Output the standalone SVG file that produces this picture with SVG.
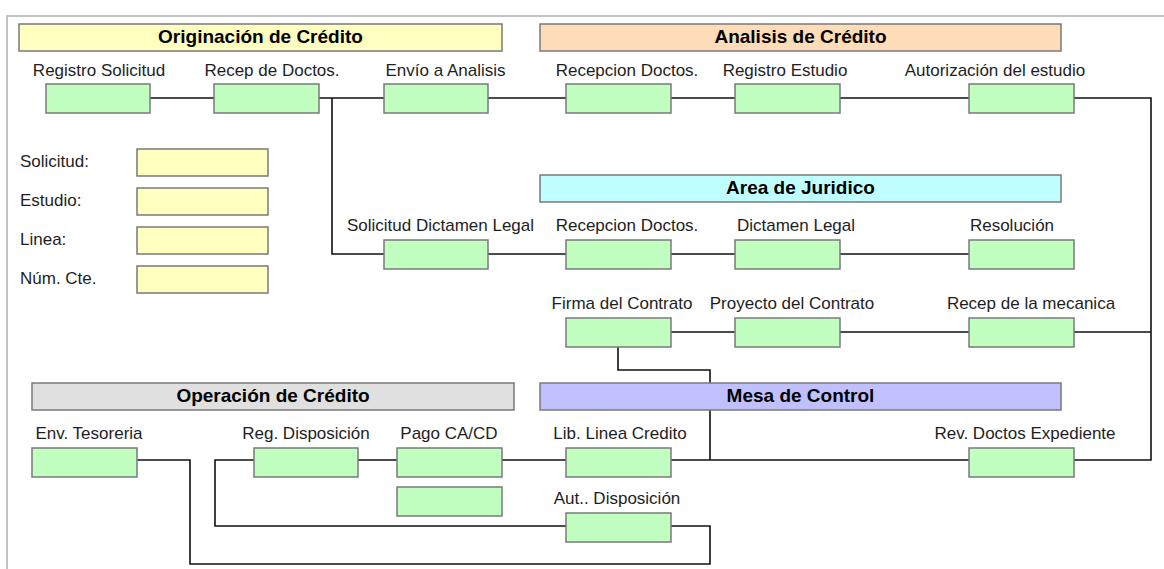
<svg xmlns="http://www.w3.org/2000/svg" width="1164" height="569" viewBox="0 0 1164 569">
<style>
.frame{fill:none;stroke:#c4c4c4;stroke-width:2}
.conn{fill:none;stroke:#111;stroke-width:1.6}
.box{fill:#c0ffc0;stroke:#7a7a7a;stroke-width:1.5}
.field{fill:#ffffc0;stroke:#7a7a7a;stroke-width:1.5}
.bar{stroke:#7a7a7a;stroke-width:1.5}
.lbl{font-family:"Liberation Sans",Arial,sans-serif;font-size:17px;fill:#1e1e1e;text-anchor:middle}
.flbl{font-family:"Liberation Sans",Arial,sans-serif;font-size:17px;fill:#1e1e1e}
.hdr{font-family:"Liberation Sans",Arial,sans-serif;font-size:19px;font-weight:bold;fill:#000;text-anchor:middle}
</style>
<rect x="0" y="0" width="1164" height="569" fill="#ffffff"/>
<path class="frame" d="M7,569 V16 H1164"/>

<g id="connectors">
<path class="conn" d="M150,98 H214 M319,98 H384 M488,98 H566 M671,98 H735 M840,98 H969 M1074,98 H1151 V460 H1074"/>
<path class="conn" d="M332,98 V254 H384"/>
<path class="conn" d="M488,254 H566 M671,254 H735 M840,254 H969"/>
<path class="conn" d="M671,332 H735 M840,332 H969 M1074,332 H1151"/>
<path class="conn" d="M618,347 V370 H710 V460"/>
<path class="conn" d="M671,460 H969 M502,460 H566 M358,460 H397"/>
<path class="conn" d="M137,460 H190 V564 H710 V526 H671"/>
<path class="conn" d="M254,460 H215 V526 H566"/>
</g>

<g id="hdr-originacion"><rect class="bar" x="19" y="24" width="483" height="27" fill="#ffffc0"/><text class="hdr" x="260.5" y="43">Originación de Crédito</text></g>
<g id="hdr-analisis"><rect class="bar" x="540" y="24" width="521" height="27" fill="#ffdcb8"/><text class="hdr" x="800.5" y="43">Analisis de Crédito</text></g>
<g id="hdr-juridico"><rect class="bar" x="540" y="175" width="521" height="27" fill="#c0ffff"/><text class="hdr" x="800.5" y="194">Area de Juridico</text></g>
<g id="hdr-operacion"><rect class="bar" x="32" y="383" width="482" height="27" fill="#e0e0e0"/><text class="hdr" x="273" y="402">Operación de Crédito</text></g>
<g id="hdr-mesa"><rect class="bar" x="540" y="383" width="521" height="27" fill="#c0c0ff"/><text class="hdr" x="800.5" y="402">Mesa de Control</text></g>

<g id="field-solicitud"><text class="flbl" x="20" y="167">Solicitud:</text><rect class="field" x="137" y="149" width="131" height="27"/></g>
<g id="field-estudio"><text class="flbl" x="20" y="206">Estudio:</text><rect class="field" x="137" y="188" width="131" height="27"/></g>
<g id="field-linea"><text class="flbl" x="20" y="245">Linea:</text><rect class="field" x="137" y="227" width="131" height="27"/></g>
<g id="field-numcte"><text class="flbl" x="20" y="284">Núm. Cte.</text><rect class="field" x="137" y="266" width="131" height="27"/></g>

<g id="registro-solicitud"><text class="lbl" x="99" y="76">Registro Solicitud</text><rect class="box" x="46" y="84" width="104" height="29"/></g>
<g id="recep-doctos"><text class="lbl" x="272" y="76">Recep de Doctos.</text><rect class="box" x="214" y="84" width="105" height="29"/></g>
<g id="envio-analisis"><text class="lbl" x="445.5" y="76">Envío a Analisis</text><rect class="box" x="384" y="84" width="104" height="29"/></g>
<g id="recepcion-doctos-a"><text class="lbl" x="627" y="76">Recepcion Doctos.</text><rect class="box" x="566" y="84" width="105" height="29"/></g>
<g id="registro-estudio"><text class="lbl" x="785" y="76">Registro Estudio</text><rect class="box" x="735" y="84" width="105" height="29"/></g>
<g id="autorizacion-estudio"><text class="lbl" x="995" y="76">Autorización del estudio</text><rect class="box" x="969" y="84" width="105" height="29"/></g>

<g id="solicitud-dictamen"><text class="lbl" x="440.5" y="231">Solicitud Dictamen Legal</text><rect class="box" x="384" y="240" width="104" height="29"/></g>
<g id="recepcion-doctos-j"><text class="lbl" x="627" y="231">Recepcion Doctos.</text><rect class="box" x="566" y="240" width="105" height="29"/></g>
<g id="dictamen-legal"><text class="lbl" x="796" y="231">Dictamen Legal</text><rect class="box" x="735" y="240" width="105" height="29"/></g>
<g id="resolucion"><text class="lbl" x="1012" y="231">Resolución</text><rect class="box" x="969" y="240" width="105" height="29"/></g>

<g id="firma-contrato"><text class="lbl" x="622" y="309">Firma del Contrato</text><rect class="box" x="566" y="318" width="105" height="29"/></g>
<g id="proyecto-contrato"><text class="lbl" x="792" y="309">Proyecto del Contrato</text><rect class="box" x="735" y="318" width="105" height="29"/></g>
<g id="recep-mecanica"><text class="lbl" x="1031" y="309">Recep de la mecanica</text><rect class="box" x="969" y="318" width="105" height="29"/></g>

<g id="env-tesoreria"><text class="lbl" x="89" y="439">Env. Tesoreria</text><rect class="box" x="32" y="448" width="105" height="29"/></g>
<g id="reg-disposicion"><text class="lbl" x="306" y="439">Reg. Disposición</text><rect class="box" x="254" y="448" width="104" height="29"/></g>
<g id="pago-cacd"><text class="lbl" x="449" y="439">Pago CA/CD</text><rect class="box" x="397" y="448" width="105" height="29"/></g>
<g id="pago-extra"><rect class="box" x="397" y="487" width="105" height="29"/></g>
<g id="lib-linea"><text class="lbl" x="620" y="439">Lib. Linea Credito</text><rect class="box" x="566" y="448" width="105" height="29"/></g>
<g id="rev-doctos"><text class="lbl" x="1025" y="439">Rev. Doctos Expediente</text><rect class="box" x="969" y="448" width="105" height="29"/></g>
<g id="aut-disposicion"><text class="lbl" x="617" y="504">Aut.. Disposición</text><rect class="box" x="566" y="513" width="105" height="29"/></g>
</svg>
